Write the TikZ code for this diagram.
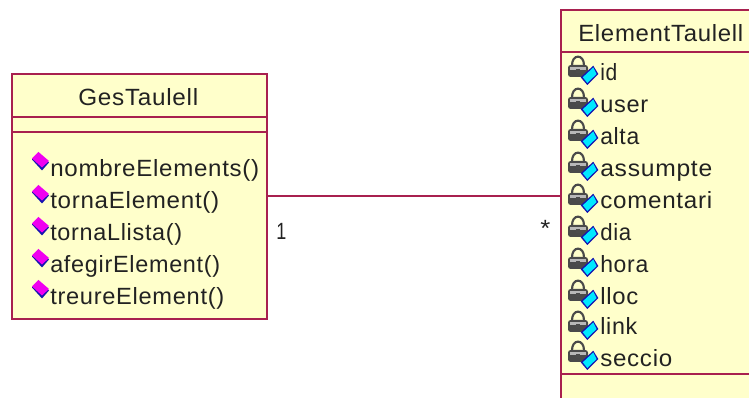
\documentclass[tikz,border=0pt]{standalone}
\usepackage{fontspec}
\setmainfont[LetterSpace=3]{Liberation Sans}
\definecolor{umlline}{HTML}{A8204F}
\definecolor{umlfill}{HTML}{FFFFCB}
\definecolor{umltext}{HTML}{222222}
\definecolor{navy}{HTML}{1414B0}
\definecolor{magenta}{HTML}{F000F0}
\definecolor{cyan}{HTML}{00E8FF}
\definecolor{lockdark}{HTML}{4A4A4A}
\definecolor{lockmid}{HTML}{B8B8B8}
\newlength{\pxu}\setlength{\pxu}{0.75pt}
\newcommand{\fitw}[2]{\resizebox{#1\pxu}{\height}{#2}}
\tikzset{
  classbox/.style={draw=umlline,fill=umlfill,line width=1.6pt,inner sep=0pt,rectangle},
  umlsep/.style={draw=umlline,line width=1.6pt},
  assoc/.style={draw=umlline,line width=1.5pt},
  label/.style={anchor=base west,inner sep=0pt,text=umltext,font=\fontsize{17.6pt}{20pt}\selectfont},
  opicon/.pic={
    \fill[navy] (0,7.5) -- (6,1) -- (17,10.5) -- (10,18.5) -- cycle;
    \fill[magenta] (0,6.5) -- (6.5,0) -- (17,9) -- (10,15.5) -- cycle;
  },
  lockicon/.pic={
    \draw[lockdark,line width=1.6pt] (4,11) .. controls (3.5,-1.5) and (16.5,-1.5) .. (16,11);
    \fill[lockdark,rounded corners=2pt] (0,10) rectangle (20,22);
    \fill[lockmid] (2,12) rectangle (18,15);
    \fill[black!70] (8,14) rectangle (12,18);
    \fill[navy] (12.7,22.3) -- (25.3,10.7) -- (30.3,19) -- (19.3,30) -- cycle;
    \fill[cyan] (14.8,22.3) -- (25.3,12.5) -- (28.6,19) -- (19.3,28) -- cycle;
  },
}
\begin{document}
\begin{tikzpicture}[x=0.75pt,y=-0.75pt]
\useasboundingbox (0,0) rectangle (749,398);
\clip (0,0) rectangle (749,398);
\fill[white] (0,0) rectangle (749,398);
% class boxes
\node[classbox,minimum width=255\pxu,minimum height=245\pxu] (ges) at (139.5,196.5) {};
\node[classbox,minimum width=209\pxu,minimum height=400\pxu] (elem) at (665.5,210) {};
\draw[umlsep] (12,117) -- (267,117);
\draw[umlsep] (12,132) -- (267,132);
\draw[umlsep] (561,52) -- (770,52);
\draw[umlsep] (561,374) -- (770,374);
% association
\draw[assoc] (ges.east) -- (ges.east -| elem.west);
\node[label] (one) at (276,240) {\fitw{10}{1}};
\node[label] (many) at (540,237) {\fitw{10}{*}};
% titles
\node[label] (gestitle) at (78,106) {\fitw{120}{GesTaulell}};
\node[label] (elemtitle) at (578,42) {\fitw{165}{ElementTaulell}};
% operations
\pic at (32,152) {opicon};
\pic at (32,185) {opicon};
\pic at (32,217) {opicon};
\pic at (32,249) {opicon};
\pic at (32,280) {opicon};
\node[label] (op1) at (50,177) {\fitw{209}{nombreElements()}};
\node[label] (op2) at (50,209) {\fitw{169}{tornaElement()}};
\node[label] (op3) at (50,241) {\fitw{132}{tornaLlista()}};
\node[label] (op4) at (50,273) {\fitw{170}{afegirElement()}};
\node[label] (op5) at (50,305) {\fitw{174}{treureElement()}};
% attributes
\foreach \t in {55,87,119,151,183,215,247,279,310,340} \pic at (568,\t) {lockicon};
\node[label] (a1) at (600,81) {\fitw{17}{id}};
\node[label] (a2) at (600,113) {\fitw{48}{user}};
\node[label] (a3) at (600,145) {\fitw{39}{alta}};
\node[label] (a4) at (600,177) {\fitw{112}{assumpte}};
\node[label] (a5) at (600,209) {\fitw{112}{comentari}};
\node[label] (a6) at (600,241) {\fitw{31}{dia}};
\node[label] (a7) at (600,273) {\fitw{48}{hora}};
\node[label] (a8) at (600,305) {\fitw{38}{lloc}};
\node[label] (a9) at (600,335) {\fitw{37}{link}};
\node[label] (a10) at (600,367) {\fitw{72}{seccio}};
\end{tikzpicture}
\end{document}
